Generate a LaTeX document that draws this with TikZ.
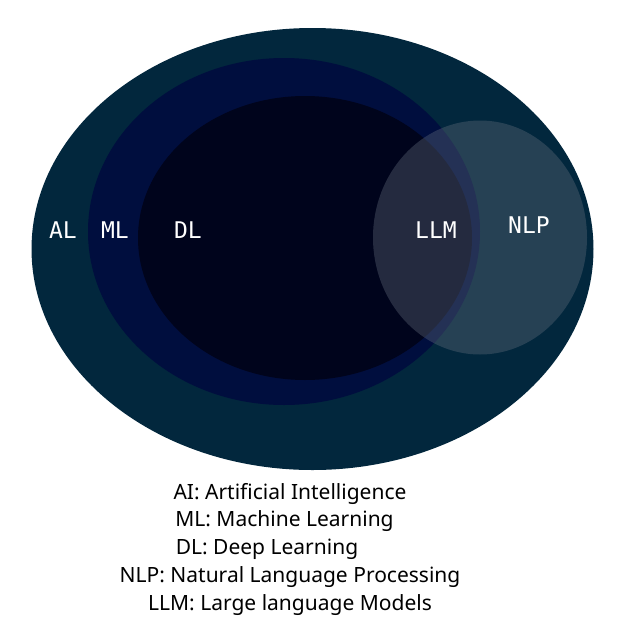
\documentclass[tikz,border=0pt]{standalone}
\usepackage{fontspec}
\setmainfont{Noto Sans}
\newfontfamily\labelmono{DejaVu Sans Mono}
\definecolor{aicol}{HTML}{02273D}
\definecolor{mlcol}{HTML}{000E3E}
\definecolor{dlcol}{HTML}{00041C}
\definecolor{nlpcol}{HTML}{66707F}
\tikzset{
  setlabel/.style={text=white,font=\labelmono\fontsize{23}{23}\selectfont},
  legend/.style={text=black,font=\fontsize{21}{24}\selectfont,anchor=center}
}
\begin{document}
\begin{tikzpicture}[x=1pt,y=-1pt]
\useasboundingbox (0,0) rectangle (625,625);
\fill[white] (0,0) rectangle (625,625);
\fill[aicol] (312.5,249) ellipse [x radius=281, y radius=221];
\fill[mlcol] (284,231.5) ellipse [x radius=196, y radius=173.5];
\fill[dlcol] (305,238) ellipse [x radius=167, y radius=142];
\fill[nlpcol,fill opacity=0.36] (480,237.5) ellipse [x radius=107, y radius=117];
\node[setlabel] (al) at (63,230) {AL};
\node[setlabel] (ml) at (115,230) {ML};
\node[setlabel] (dl) at (188,230) {DL};
\node[setlabel] (llm) at (436,230) {LLM};
\node[setlabel] (nlp) at (529,225) {NLP};
\node[legend] (l1) at (290,494) {AI: Artificial Intelligence};
\node[legend] (l2) at (284.5,521) {ML: Machine Learning};
\node[legend] (l3) at (267,549) {DL: Deep Learning};
\node[legend] (l4) at (290,577) {NLP: Natural Language Processing};
\node[legend] (l5) at (290,605) {LLM: Large language Models};
\end{tikzpicture}
\end{document}
